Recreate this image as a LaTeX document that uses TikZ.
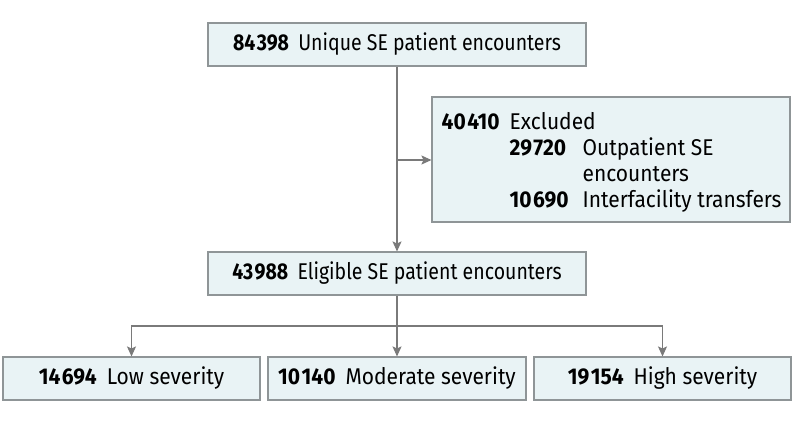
\documentclass[tikz,border=0pt]{standalone}
\usepackage{fontspec}
\usepackage{graphicx}
\setmainfont{Fira Sans}[FakeStretch=0.92]
\usetikzlibrary{arrows.meta}
\definecolor{boxfill}{HTML}{E9F3F5}
\definecolor{boxline}{HTML}{8F9597}
\definecolor{arrline}{HTML}{7A7A7A}
\newcommand{\ts}{\kern1.5pt}
\newcommand{\narrow}[1]{\scalebox{0.93}[1]{#1}}
\begin{document}
\begin{tikzpicture}[x=1pt,y=-1pt,
  txt/.style={inner sep=0pt, font=\fontsize{22.8}{26}\selectfont},
  box/.style={txt, draw=boxline, fill=boxfill, line width=1.1pt},
  conn/.style={draw=arrline, line width=1.1pt},
  arr/.style={conn, -{Stealth[length=10pt,width=9pt,inset=2pt]}}]
\useasboundingbox (0,0) rectangle (794,420);
\node[box, minimum width=378pt, minimum height=43pt] (top) at (397,44.5) {\narrow{\textbf{84\ts398}\hspace{10pt}Unique SE patient encounters}};
\node[box, minimum width=358pt, minimum height=125pt] (excl) at (611,159.5) {};
\node[txt, anchor=west] (exclt) at ([xshift=10pt,yshift=-4pt]excl.west) {%
  \begin{tabular}{@{}l@{\hspace{10pt}}l@{\hspace{14pt}}l@{}}
  \textbf{40\ts410} & \multicolumn{2}{@{}l}{Excluded}\\
  & \textbf{29\ts720} & Outpatient SE\\
  & & encounters\\
  & \textbf{10\ts690} & Interfacility transfers
  \end{tabular}};
\node[box, minimum width=378pt, minimum height=43pt] (elig) at (397,273.5) {\narrow{\textbf{43\ts988}\hspace{10pt}Eligible SE patient encounters}};
\node[box, minimum width=257pt, minimum height=43pt] (low) at (131.5,378.5) {\textbf{14\ts694}\hspace{10pt}Low severity};
\node[box, minimum width=258pt, minimum height=43pt] (mod) at (397,378.5) {\textbf{10\ts140}\hspace{10pt}Moderate severity};
\node[box, minimum width=257pt, minimum height=43pt] (high) at (662.5,378.5) {\textbf{19\ts154}\hspace{10pt}High severity};
\coordinate (br) at (397,160);
\coordinate (hs) at (397,326);
\draw[arr] (top.south) -- (elig.north);
\draw[arr] (br) -- (excl.west |- br);
\draw[conn] (elig.south) -- (hs);
\draw[arr] (hs) -- (mod.north);
\draw[arr] (hs) -| (low.north);
\draw[arr] (hs) -| (high.north);
\end{tikzpicture}
\end{document}
